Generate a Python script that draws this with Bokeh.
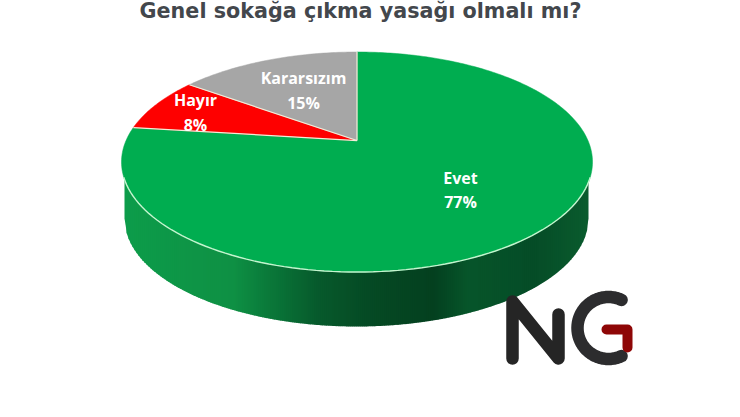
import math
from bokeh.plotting import figure
from bokeh.embed import file_html
from bokeh.resources import INLINE
from bokeh.core.properties import value

title_text = "Genel sokağa çıkma yasağı olmalı mı?"
categories = ["Evet", "Hayır", "Kararsızım"]
values = [77, 8, 15]
slice_colors = ["#00ad50", "#fe0000", "#a6a6a6"]
label_x = [460, 195, 303]
label_y = [177, 99, 77]
label_gap = [24, 25, 25]

# pie geometry, in page pixels
CX, CY, RX, RY, TILT = 356.5, 161.5, 235.5, 110.0, 0.195
BOT_CX, BOT_CY, BOT_RX, BOT_RY = 356.0, 218.0, 232.0, 108.0
wall_stop_x = [124, 233, 267, 317, 367, 433, 467, 533, 590]
wall_stop_c = ["#0d9c4a", "#0e9044", "#0a7a3a", "#075a2c", "#054a24", "#04401f", "#06552a", "#054c27", "#0a5c2e"]


def project(frac):
    """Point on the tilted rim for a fraction of the circle, clockwise from the top."""
    t = 2 * math.pi * frac
    u, v = math.sin(t), math.cos(t)
    d = 1 + TILT * v
    return (CX + RX * u * math.sqrt(1 - TILT ** 2) / d, CY - RY * (v + TILT) / d)


apex = (CX, CY - RY * TILT)


def hex_mix(a, b, k):
    ca = [int(a[i:i + 2], 16) for i in (1, 3, 5)]
    cb = [int(b[i:i + 2], 16) for i in (1, 3, 5)]
    return "#%02x%02x%02x" % tuple(round(p + (q - p) * k) for p, q in zip(ca, cb))


def wall_color(x):
    for i in range(len(wall_stop_x) - 1):
        if x <= wall_stop_x[i + 1]:
            k = (x - wall_stop_x[i]) / (wall_stop_x[i + 1] - wall_stop_x[i])
            return hex_mix(wall_stop_c[i], wall_stop_c[i + 1], max(0, min(1, k)))
    return wall_stop_c[-1]


def bottom_y(x):
    w = max(0.0, 1 - ((x - BOT_CX) / BOT_RX) ** 2)
    return BOT_CY + BOT_RY * math.sqrt(w)


p = figure(width=732, height=409, x_range=(0, 732), y_range=(409, 0),
           output_backend="svg", toolbar_location=None, min_border=0,
           background_fill_color="white", border_fill_color="white",
           outline_line_color=None, margin=(0, 0, 0, 0))
p.axis.visible = False
p.grid.visible = False

# side wall, as narrow vertical bands
bx, by, bc = [], [], []
x = BOT_CX - BOT_RX
right = BOT_CX + BOT_RX
while x < right:
    x2 = min(x + 2.0, right)
    x3 = min(x2 + 0.7, right)
    bx.append([x, x3, x3, x])
    by.append([CY, CY, bottom_y(x3), bottom_y(x)])
    bc.append(wall_color((x + x2) / 2))
    x = x2
p.patches(bx, by, fill_color=bc, line_color=None)

# top face
xs, ys = [], []
start = 0.0
total = sum(values)
for v in values:
    n = max(4, int(v * 4))
    pts = [project(start + (v / total) * i / n) for i in range(n + 1)]
    xs.append([apex[0]] + [q[0] for q in pts])
    ys.append([apex[1]] + [q[1] for q in pts])
    start += v / total
p.patches(xs, ys, fill_color=slice_colors, line_color=slice_colors, line_width=0.5)

# pale seams between the slices
for i in range(len(values)):
    f = sum(values[:i]) / total
    q = project(f)
    p.line([apex[0], q[0]], [apex[1], q[1]], line_color="#f3ecd8", line_width=1.2)

# pale front rim
rim = [math.radians(a) for a in range(-172, -7, 2)]
p.line([CX + RX * math.cos(a) for a in rim], [CY - RY * math.sin(a) for a in rim],
       line_color="#c4f5cf", line_width=1.4)

# labels
tx, ty, tt = [], [], []
for c, v, lx, ly, g in zip(categories, values, label_x, label_y, label_gap):
    tx += [lx, lx]
    ty += [ly, ly + g]
    tt += [c, f"{v}%"]
p.text(tx, ty, text=tt, text_color="white", text_align="center", text_baseline="middle",
       text_font=value("Open Sans"), text_font_style="bold", text_font_size="16px")

# title, close to the top of the picture as in the reference
p.text([360], [10], text=[title_text], text_color="#43474c", text_align="center",
       text_baseline="alphabetic", text_font=value("DejaVu Sans"),
       text_font_style="bold", text_font_size="20.7px")

# logo
p.line([512, 512, 558, 558], [358, 301, 358, 314], line_color="#252525", line_width=12.5,
       line_cap="round", line_join="round")
arc = [math.radians(a) for a in range(65, 300, 5)]
p.line([608 + 31 * math.cos(a) for a in arc], [327.5 - 31 * math.sin(a) for a in arc],
       line_color="#2c2c2e", line_width=12.5, line_cap="round", line_join="round")
p.line([606, 627, 627], [329, 329, 347], line_color="#8e0606", line_width=10,
       line_cap="round", line_join="round")

open("out.html", "w").write(file_html(p, INLINE))
